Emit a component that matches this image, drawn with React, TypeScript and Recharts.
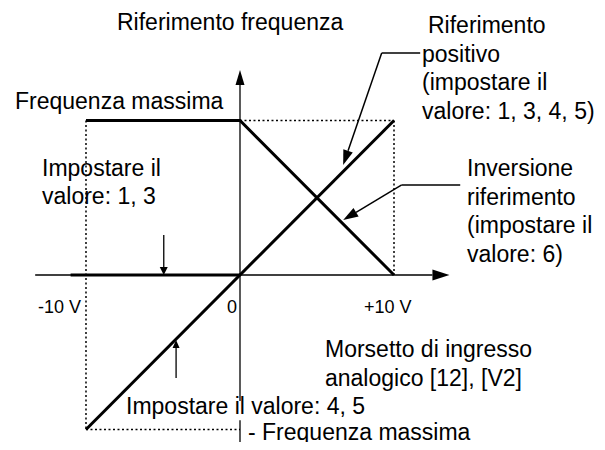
import React from 'react';
import { LineChart, Line, XAxis, YAxis, ReferenceLine } from 'recharts';

// input voltage (V) vs frequency reference (% of max)
const positiveRef = [
  { v: -10, f: -100 },
  { v: 10, f: 100 },
];
const inversionRef = [
  { v: -10, f: 100 },
  { v: 0, f: 100 },
  { v: 10, f: 0 },
];
const clampRef = [
  { v: -11, f: 0 },
  { v: 0, f: 0 },
];

// dotted guides to +-10 V / +-max
const guides = [
  [{ v: -10, f: 100 }, { v: -10, f: -100 }],
  [{ v: 10, f: 100 }, { v: 10, f: 0 }],
  [{ v: 0, f: 100 }, { v: 10, f: 100 }],
  [{ v: -10, f: -100 }, { v: 0, f: -100 }],
];

const axisX = [-13.3, 13.6];
const axisY = [-81.5, 132.7];
const axisYTail = [-94, -110];

// leader lines: [start, elbow, tip]
const calloutPositive = [
  { v: 11.7, f: 143.7 },
  { v: 9.2, f: 143.7 },
  { v: 6.7, f: 71.2 },
];
const calloutInversion = [
  { v: 14.3, f: 58.3 },
  { v: 10.5, f: 58.3 },
  { v: 6.7, f: 35.6 },
];
const arrowDown = [
  { v: -4.95, f: 25.9 },
  { v: -4.95, f: 0 },
];
const arrowUp = [
  { v: -4.15, f: -66.7 },
  { v: -4.15, f: -42 },
];

const tickLabels = ['-10 V', '0', '+10 V'];
const titleY = 'Riferimento frequenza';
const maxLabel = 'Frequenza massima';
const minLabel = '- Frequenza massima';
const positiveLabel = ['Riferimento', 'positivo', '(impostare il', 'valore: 1, 3, 4, 5)'];
const inversionLabel = ['Inversione', 'riferimento', '(impostare il', 'valore: 6)'];
const clampLabel = ['Impostare il', 'valore: 1, 3'];
const terminalLabel = ['Morsetto di ingresso', 'analogico [12], [V2]'];
const bipolarLabel = 'Impostare il valore: 4, 5';

const FONT = '"Liberation Sans", Arial, sans-serif';

const arrowShape = (len: number, half: number) => (props: any) => {
  const { x1, y1, x2, y2 } = props;
  const a = Math.atan2(y2 - y1, x2 - x1);
  const c = Math.cos(a);
  const s = Math.sin(a);
  const bx = x2 - len * c;
  const by = y2 - len * s;
  const pts = `${x2},${y2} ${bx + half * s},${by - half * c} ${bx - half * s},${by + half * c}`;
  return (
    <g>
      <line x1={x1} y1={y1} x2={bx} y2={by} stroke="#000" strokeWidth={props.strokeWidth} />
      <polygon points={pts} fill="#000" />
    </g>
  );
};

const seg = (a: { v: number; f: number }, b: { v: number; f: number }) => [
  { x: a.v, y: a.f },
  { x: b.v, y: b.f },
];

const Lines = ({ x, y, lh, rows, dx }: { x: number; y: number; lh: number; rows: string[]; dx?: number[] }) => (
  <text fontFamily={FONT} fontSize={23} fill="#000">
    {rows.map((r, i) => (
      <tspan key={i} x={x + (dx ? dx[i] : 0)} y={y + i * lh}>
        {r}
      </tspan>
    ))}
  </text>
);

export default function App() {
  return (
    <div style={{ margin: -8, width: 605, height: 450, background: '#fff', position: 'relative' }}>
      <LineChart width={605} height={450} margin={{ top: 0, right: 0, bottom: 0, left: 0 }}>
        <XAxis dataKey="v" type="number" domain={[-15.584, 23.701]} allowDataOverflow hide />
        <YAxis dataKey="f" type="number" domain={[-113.27, 177.99]} allowDataOverflow hide />

        {guides.map((g, i) => (
          <ReferenceLine
            key={'g' + i}
            segment={seg(g[0], g[1])}
            stroke="#000"
            strokeWidth={1.5}
            strokeDasharray="2 2.5"
            ifOverflow="visible"
          />
        ))}

        <ReferenceLine
          segment={[{ x: axisX[0], y: 0 }, { x: axisX[1], y: 0 }]}
          strokeWidth={1.3}
          stroke="#000"
          ifOverflow="visible"
          shape={arrowShape(17, 5.5)}
        />
        <ReferenceLine
          segment={[{ x: 0, y: axisY[0] }, { x: 0, y: axisY[1] }]}
          strokeWidth={1.3}
          stroke="#000"
          ifOverflow="visible"
          shape={arrowShape(15, 4.5)}
        />
        <ReferenceLine
          segment={[{ x: 0, y: axisYTail[0] }, { x: 0, y: axisYTail[1] }]}
          strokeWidth={1.3}
          stroke="#000"
          ifOverflow="visible"
        />

        <Line data={clampRef} dataKey="f" type="linear" stroke="#000" strokeWidth={3.2} dot={false} isAnimationActive={false} />
        <Line data={inversionRef} dataKey="f" type="linear" stroke="#000" strokeWidth={3} dot={false} isAnimationActive={false} />
        <Line data={positiveRef} dataKey="f" type="linear" stroke="#000" strokeWidth={3} dot={false} isAnimationActive={false} />

        <ReferenceLine segment={seg(calloutPositive[0], calloutPositive[1])} stroke="#000" strokeWidth={1.5} ifOverflow="visible" />
        <ReferenceLine
          segment={seg(calloutPositive[1], calloutPositive[2])}
          stroke="#000"
          strokeWidth={1.5}
          ifOverflow="visible"
          shape={arrowShape(15, 5)}
        />
        <ReferenceLine segment={seg(calloutInversion[0], calloutInversion[1])} stroke="#000" strokeWidth={1.5} ifOverflow="visible" />
        <ReferenceLine
          segment={seg(calloutInversion[1], calloutInversion[2])}
          stroke="#000"
          strokeWidth={1.5}
          ifOverflow="visible"
          shape={arrowShape(15, 5)}
        />
        <ReferenceLine
          segment={seg(arrowDown[0], arrowDown[1])}
          stroke="#000"
          strokeWidth={1.3}
          ifOverflow="visible"
          shape={arrowShape(8, 4)}
        />
        <ReferenceLine
          segment={seg(arrowUp[0], arrowUp[1])}
          stroke="#000"
          strokeWidth={1.3}
          ifOverflow="visible"
          shape={arrowShape(8, 3.5)}
        />

        <Lines x={117} y={30} lh={0} rows={[titleY]} />
        <Lines x={15} y={109} lh={0} rows={[maxLabel]} />
        <Lines x={422} y={33} lh={28.5} rows={positiveLabel} dx={[6, 0, 0, 0]} />
        <Lines x={467} y={176} lh={28.5} rows={inversionLabel} />
        <Lines x={42} y={176} lh={28} rows={clampLabel} />
        <Lines x={325} y={357} lh={28.5} rows={terminalLabel} />
        <Lines x={126} y={414} lh={0} rows={[bipolarLabel]} />
        <Lines x={248} y={440} lh={0} rows={[minLabel]} />

        <text fontFamily={FONT} fontSize={18} fill="#000" y={313}>
          <tspan x={81} textAnchor="end">{tickLabels[0]}</tspan>
          <tspan x={227}>{tickLabels[1]}</tspan>
          <tspan x={364}>{tickLabels[2]}</tspan>
        </text>
      </LineChart>
    </div>
  );
}
